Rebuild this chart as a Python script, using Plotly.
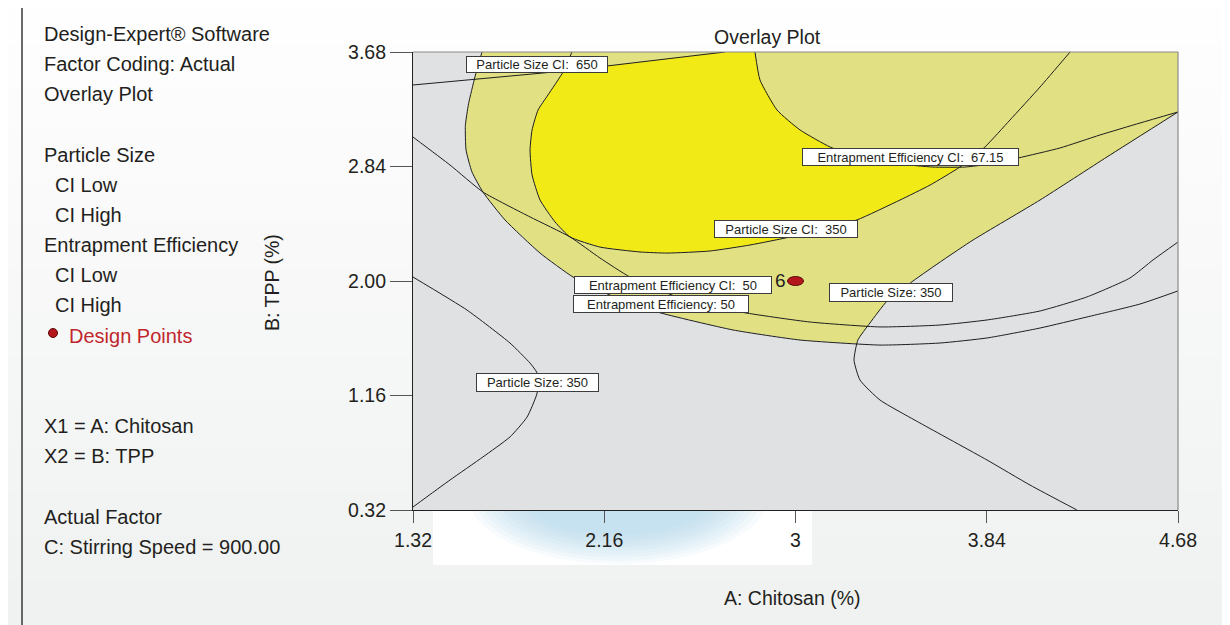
import plotly.graph_objects as go

# ---------------- data ----------------
x_range = [1.32, 4.68]
y_range = [0.32, 3.68]
x_ticks = [1.32, 2.16, 3.0, 3.84, 4.68]
x_ticklabels = ["1.32", "2.16", "3", "3.84", "4.68"]
y_ticks = [0.32, 1.16, 2.00, 2.84, 3.68]
y_ticklabels = ["0.32", "1.16", "2.00", "2.84", "3.68"]

# Entrapment Efficiency: 50 contour
ee50_x = [1.623, 1.592, 1.564, 1.550, 1.553, 1.579, 1.627, 1.724, 1.878, 2.023, 2.185,
          2.392, 2.725, 3.020, 3.371, 3.635, 3.841, 4.074, 4.280, 4.513, 4.68]
ee50_y = [3.68, 3.497, 3.300, 3.140, 2.961, 2.800, 2.653, 2.448, 2.205, 2.029, 1.897,
          1.773, 1.641, 1.567, 1.530, 1.545, 1.582, 1.655, 1.736, 1.831, 1.927]

# Entrapment Efficiency CI: 50 contour
ee_ci50_x = [1.32, 1.4825, 1.627, 1.834, 2.010, 2.141, 2.273, 2.493, 2.756, 3.064, 3.371,
             3.635, 3.841, 4.074, 4.280, 4.469, 4.570, 4.68]
ee_ci50_y = [3.056, 2.851, 2.653, 2.470, 2.323, 2.169, 2.029, 1.875, 1.773, 1.699, 1.663,
             1.677, 1.714, 1.780, 1.883, 2.022, 2.154, 2.286]

# Particle Size CI: 350 contour
ps_ci350_x = [2.018, 1.979, 1.913, 1.869, 1.843, 1.834, 1.843, 1.878, 1.944, 2.010, 2.141,
              2.317, 2.436, 2.624, 2.800, 2.976, 3.152, 3.270, 3.459, 3.591, 3.722, 3.832,
              3.942, 4.074, 4.206]
ps_ci350_y = [3.68, 3.533, 3.365, 3.254, 3.108, 2.961, 2.778, 2.594, 2.433, 2.323, 2.249,
              2.213, 2.205, 2.220, 2.264, 2.323, 2.396, 2.448, 2.594, 2.704, 2.836, 2.983,
              3.181, 3.423, 3.68]

# Entrapment Efficiency CI: 67.15 contour
ee_ci6715_x = [2.822, 2.844, 2.919, 3.020, 3.152, 3.283, 3.459, 3.604, 3.744, 3.854,
               3.977, 4.162, 4.337, 4.513, 4.68]
ee_ci6715_y = [3.68, 3.475, 3.254, 3.108, 2.983, 2.910, 2.858, 2.836, 2.836, 2.858,
               2.902, 2.976, 3.071, 3.159, 3.240]

# Particle Size CI: 650 contour
ps_ci650_x = [1.32, 1.988, 2.690]
ps_ci650_y = [3.438, 3.541, 3.68]

# Particle Size: 350 contour (right branch)
ps350_right_x = [4.68, 4.368, 4.074, 3.780, 3.648, 3.516, 3.402, 3.327, 3.274, 3.257,
                 3.283, 3.371, 3.547, 3.841, 4.030, 4.236]
ps350_right_y = [3.240, 2.910, 2.594, 2.301, 2.154, 2.000, 1.853, 1.692, 1.567, 1.420,
                 1.274, 1.127, 0.958, 0.687, 0.503, 0.32]

# Particle Size: 350 contour (left branch)
ps350_left_x = [1.32, 1.557, 1.746, 1.834, 1.865, 1.865, 1.821, 1.746, 1.627, 1.4825, 1.32]
ps350_left_y = [2.029, 1.787, 1.545, 1.398, 1.325, 1.178, 1.002, 0.856, 0.709, 0.540, 0.342]

# design point
design_x = [3.0]
design_y = [2.0]
design_labels = ["6"]

# contour labels: text, left x, centre y, box width px, box height px
contour_labels = [
    ("Particle Size CI:  650", 1.553, 3.592, 140, 15),
    ("Entrapment Efficiency CI:  67.15", 3.029, 2.910, 215, 16),
    ("Particle Size CI:  350", 2.642, 2.381, 142, 16),
    ("Entrapment Efficiency CI:  50", 2.027, 1.971, 196, 16),
    ("Entrapment Efficiency: 50", 2.023, 1.831, 174, 16),
    ("Particle Size: 350", 3.147, 1.919, 122, 17),
    ("Particle Size: 350", 1.597, 1.259, 121, 17),
]

# ---------------- style ----------------
GRAY = "#e0e1e3"
OLIVE = "#e1e183"
YELLOW = "#f2ea17"
LINE = "#1e1e1e"
FONT = "Liberation Sans, Arial, Helvetica, sans-serif"
TXT = "#231f20"

# page is offset by the 8px body margin
OFF = 8
W, H = 1230 - OFF, 625 - OFF
ML, MT = 413 - OFF, 52 - OFF
MR = W - (1178 - OFF)
MB = H - (510 - OFF)
PW, PH = W - ML - MR, H - MT - MB


def px(xp):  # page x -> paper
    return (xp - OFF - ML) / PW


def py(yp):  # page y -> paper
    return (H - MB - (yp - OFF)) / PH


fig = go.Figure()


def fill(xs, ys, color):
    fig.add_trace(go.Scatter(x=xs, y=ys, mode="lines", fill="toself", fillcolor=color,
                             line=dict(width=0, color=color), hoverinfo="skip",
                             showlegend=False))


x0, x1 = x_range
y0, y1 = y_range
fill([x0, x1, x1, x0], [y0, y0, y1, y1], OLIVE)
fill(ps_ci350_x, ps_ci350_y, YELLOW)
fill(ee_ci6715_x + [x1], ee_ci6715_y + [y1], OLIVE)
fill(ps_ci650_x + [x0], ps_ci650_y + [y1], OLIVE)
fill(ee50_x + [x1, x0, x0], ee50_y + [y0, y0, y1], GRAY)
fill(ps350_right_x + [x1], ps350_right_y + [y0], GRAY)

for cx, cy, shape in [(ee50_x, ee50_y, "spline"), (ee_ci50_x, ee_ci50_y, "spline"),
                      (ps_ci350_x, ps_ci350_y, "spline"), (ee_ci6715_x, ee_ci6715_y, "spline"),
                      (ps_ci650_x, ps_ci650_y, "linear"), (ps350_right_x, ps350_right_y, "spline"),
                      (ps350_left_x, ps350_left_y, "spline")]:
    fig.add_trace(go.Scatter(x=cx, y=cy, mode="lines",
                             line=dict(color=LINE, width=1, shape=shape, smoothing=0.5),
                             hoverinfo="skip", showlegend=False))

# design points
fig.add_trace(go.Scatter(x=design_x, y=design_y, mode="markers",
                         marker=dict(size=1, color="rgba(0,0,0,0)"),
                         hoverinfo="skip", showlegend=False))

shapes = []
# background gradient bands
n = 14
for i in range(n):
    t = i / (n - 1)
    c0 = (254, 254, 254)
    c1 = (240, 242, 241)
    col = "rgb(%d,%d,%d)" % tuple(round(a + (b - a) * t) for a, b in zip(c0, c1))
    shapes.append(dict(type="rect", xref="paper", yref="paper", layer="below",
                       x0=px(0), x1=px(1240), y0=py(625 * (i + 1) / n + 2), y1=py(625 * i / n),
                       fillcolor=col, line=dict(width=0)))
# white patch & blue blur under x axis
shapes.append(dict(type="rect", xref="paper", yref="paper", layer="below",
                   x0=px(433), x1=px(812), y0=py(565), y1=py(510),
                   fillcolor="white", line=dict(width=0)))
nb = 10
for k in range(nb):
    t = k / (nb - 1)
    rx = 150 - 55 * t
    ry = 68 - 30 * t
    shapes.append(dict(type="circle", xref="paper", yref="paper", layer="below",
                       x0=px(618 - rx), x1=px(618 + rx), y0=py(496 + ry), y1=py(496 - ry),
                       fillcolor="rgba(170,212,236,0.09)", line=dict(width=0)))
# outer frame
shapes.append(dict(type="rect", xref="paper", yref="paper", layer="above",
                   x0=px(22), x1=px(1223), y0=py(660), y1=py(5),
                   line=dict(color="#3a3a3a", width=1.5)))
# top & right plot borders
shapes.append(dict(type="line", xref="paper", yref="paper", x0=0, x1=1, y0=1, y1=1,
                   line=dict(color="#8a8a8a", width=1.2)))
shapes.append(dict(type="line", xref="paper", yref="paper", x0=1, x1=1, y0=0, y1=1,
                   line=dict(color="#8a8a8a", width=1.2)))
# design point ellipse (anchored on data)
for dx, dy in zip(design_x, design_y):
    shapes.append(dict(type="circle", xref="x", yref="y", xsizemode="pixel",
                       ysizemode="pixel", xanchor=dx, yanchor=dy, x0=-8, x1=8, y0=-4.5,
                       y1=4.5, fillcolor="#b5161c", line=dict(color="#5a0a0a", width=1)))
# legend bullet
shapes.append(dict(type="circle", xref="paper", yref="paper", xsizemode="pixel",
                   ysizemode="pixel", xanchor=px(53), yanchor=py(333), x0=-4.5, x1=4.5,
                   y0=-4.5, y1=4.5, fillcolor="#b5161c", line=dict(color="#5a0a0a", width=1)))

annotations = []
for text, lx, cy, bw, bh in contour_labels:
    annotations.append(dict(x=lx, y=cy, xref="x", yref="y", text=text, showarrow=False,
                            xanchor="left", yanchor="middle", width=bw, height=bh,
                            align="center", bgcolor="white", bordercolor="#3c3c3c",
                            borderwidth=1, borderpad=0,
                            font=dict(family=FONT, size=13, color=TXT)))

for dx, dy, lab in zip(design_x, design_y, design_labels):
    annotations.append(dict(x=dx, y=dy, xref="x", yref="y", text=lab, showarrow=False,
                            xanchor="right", yanchor="middle", xshift=-8, yshift=1,
                            font=dict(family=FONT, size=19, color=TXT)))

left_texts = [
    ("Design-Expert® Software", 42, 34, TXT),
    ("Factor Coding: Actual", 42, 64, TXT),
    ("Overlay Plot", 42, 94, TXT),
    ("Particle Size", 42, 155, TXT),
    ("CI Low", 53, 185, TXT),
    ("CI High", 53, 215, TXT),
    ("Entrapment Efficiency", 42, 245, TXT),
    ("CI Low", 53, 275, TXT),
    ("CI High", 53, 305, TXT),
    ("Design Points", 67, 336, "#c1272d"),
    ("X1 = A: Chitosan", 42, 426, TXT),
    ("X2 = B: TPP", 42, 456, TXT),
    ("Actual Factor", 42, 517, TXT),
    ("C: Stirring Speed = 900.00", 42, 547, TXT),
]
for text, xx, yy, col in left_texts:
    annotations.append(dict(x=px(xx), y=py(yy), xref="paper", yref="paper", text=text,
                            showarrow=False, xanchor="left", yanchor="middle",
                            font=dict(family=FONT, size=20, color=col)))

annotations.append(dict(x=px(767), y=py(37), xref="paper", yref="paper", text="Overlay Plot",
                        showarrow=False, xanchor="center", yanchor="middle",
                        font=dict(family=FONT, size=19.5, color=TXT)))
annotations.append(dict(x=px(792), y=py(598), xref="paper", yref="paper",
                        text="A: Chitosan (%)", showarrow=False, xanchor="center",
                        yanchor="middle", font=dict(family=FONT, size=19.5, color=TXT)))
annotations.append(dict(x=px(272), y=py(283), xref="paper", yref="paper",
                        text="B: TPP (%)", showarrow=False, textangle=-90, xanchor="center",
                        yanchor="middle", font=dict(family=FONT, size=19.5, color=TXT)))

fig.update_layout(
    width=W, height=H,
    margin=dict(l=ML, r=MR, t=MT, b=MB, pad=0),
    paper_bgcolor="#f7f8f8", plot_bgcolor=OLIVE,
    showlegend=False,
    shapes=shapes, annotations=annotations,
    xaxis=dict(range=x_range, tickvals=x_ticks, ticktext=x_ticklabels, showgrid=False,
               zeroline=False, showline=True, linecolor="#222222", linewidth=1.2,
               ticks="outside", ticklen=12, tickcolor="#555555", tickwidth=1,
               tickfont=dict(family=FONT, size=19.5, color=TXT), fixedrange=True),
    yaxis=dict(range=y_range, tickvals=y_ticks, ticktext=y_ticklabels, showgrid=False,
               zeroline=False, showline=True, linecolor="#222222", linewidth=1.2,
               ticks="outside", ticklen=22, tickcolor="#555555", tickwidth=1,
               tickfont=dict(family=FONT, size=19.5, color=TXT), fixedrange=True),
)

fig.write_html("out.html")
